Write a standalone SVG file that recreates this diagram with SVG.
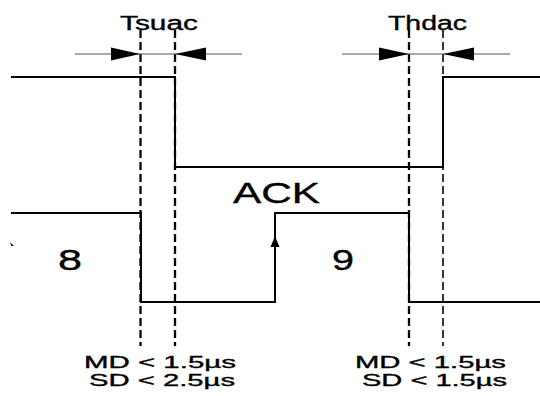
<svg xmlns="http://www.w3.org/2000/svg" width="540" height="396" viewBox="0 0 540 396">
<style>
.sig{fill:none;stroke:#000;stroke-width:2;stroke-linejoin:miter}
.dash{fill:none;stroke:#000;stroke-width:2.3;stroke-dasharray:8,4}
.dash2{fill:none;stroke:#222;stroke-width:1.8;stroke-dasharray:8,4}
.dim{fill:none;stroke:#555;stroke-width:1}
.ah{fill:#000}
text{font-family:"Liberation Sans",Arial,sans-serif;fill:#000;stroke:#000;stroke-width:0.35}
</style>
<rect width="540" height="396" fill="#fff"/>
<g id="guides">
<line class="dash" x1="140.5" y1="30" x2="140.5" y2="346"/>
<line class="dash" x1="175" y1="30" x2="175" y2="346"/>
<line class="dash" x1="409" y1="30" x2="409" y2="346"/>
<line class="dash2" x1="443" y1="30" x2="443" y2="346"/>
</g>
<g id="connectors">
<path class="sig" d="M11,77 H175 V167 H443 V77 H540"/>
<path class="sig" d="M11,213 H141 V302 H275 V213 H409 V302 H540"/>
<polygon class="ah" points="275,236 270.5,247 279.5,247"/>
<line class="dim" x1="75" y1="54" x2="242" y2="54"/>
<polygon class="ah" points="140,54 111,47.5 111,60.5"/>
<polygon class="ah" points="175,54 206,47.5 206,60.5"/>
<line class="dim" x1="342" y1="54" x2="510" y2="54"/>
<polygon class="ah" points="409,54 379,47.5 379,60.5"/>
<polygon class="ah" points="443,54 474,47.5 474,60.5"/>
<polygon class="ah" points="10,242 11.5,246 14,246"/>
</g>
<g id="label-tsuac"><text x="120" y="29.5" font-size="20" textLength="78" lengthAdjust="spacingAndGlyphs">Tsuac</text></g>
<g id="label-thdac"><text x="388" y="30" font-size="20" textLength="79" lengthAdjust="spacingAndGlyphs">Thdac</text></g>
<g id="label-ack"><text x="233" y="203" font-size="29" textLength="87" lengthAdjust="spacingAndGlyphs">ACK</text></g>
<g id="label-8"><text x="70" y="270" font-size="30" text-anchor="middle" textLength="24" lengthAdjust="spacingAndGlyphs">8</text></g>
<g id="label-9"><text x="343" y="270" font-size="30" text-anchor="middle" textLength="22" lengthAdjust="spacingAndGlyphs">9</text></g>
<g id="timing-left">
<text x="84" y="367.5" font-size="17" textLength="152" lengthAdjust="spacingAndGlyphs">MD &lt; 1.5µs</text>
<text x="89" y="385.5" font-size="17" textLength="146" lengthAdjust="spacingAndGlyphs">SD &lt; 2.5µs</text>
</g>
<g id="timing-right">
<text x="355" y="367.5" font-size="17" textLength="151" lengthAdjust="spacingAndGlyphs">MD &lt; 1.5µs</text>
<text x="362" y="385.5" font-size="17" textLength="145" lengthAdjust="spacingAndGlyphs">SD &lt; 1.5µs</text>
</g>
</svg>
